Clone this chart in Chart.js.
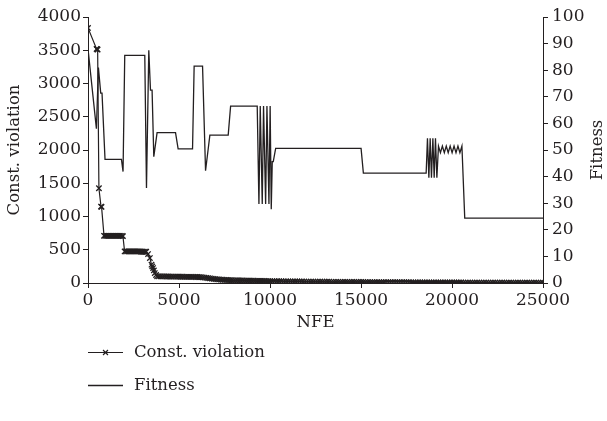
<!DOCTYPE html>
<html><head><meta charset="utf-8">
<script src="https://cdn.jsdelivr.net/npm/chart.js@4.4.0/dist/chart.umd.min.js"></script>
<style>html,body{margin:0;padding:0;background:#fff;overflow:hidden}canvas{display:block}</style>
</head><body>
<canvas id="c" width="607" height="421"></canvas>
<script>
// ---- data ----
const seriesNames = ['Const. violation', 'Fitness'];
const xTitle = 'NFE';
const yTitle = 'Const. violation';
const y1Title = 'Fitness';
const xTicks = [0, 5000, 10000, 15000, 20000, 25000];

const cvNFE = [0, 470, 500, 530, 600, 715, 745, 880, 950, 1020, 1090, 1160, 1230, 1300, 1370, 1440, 1510, 1580, 1650, 1720, 1790, 1860, 1920,
  2010, 2080, 2150, 2220, 2290, 2360, 2430, 2500, 2570, 2640, 2710, 2780, 2850, 2920, 2990, 3060, 3130, 3200,
  3300, 3400, 3490, 3530, 3576, 3620, 3670, 3740,
  3800, 3900, 4000, 4100, 4200, 4300, 4400, 4500, 4600, 4700,
  4800, 4900, 5000, 5100, 5200, 5300, 5400, 5500, 5600, 5700,
  5800, 5900, 6000, 6100, 6200, 6300, 6400, 6500, 6600, 6700,
  6800, 6900, 7000, 7100, 7200, 7300, 7400, 7500, 7600, 7700,
  7800, 7900, 8000, 8100, 8200, 8300, 8400, 8500, 8600, 8700,
  8800, 8900, 9000, 9100, 9200, 9300, 9400, 9500, 9600, 9700,
  9800, 9900, 10000,
  10125, 10250, 10375, 10500, 10625, 10750, 10875, 11000,
  11125, 11250, 11375, 11500, 11625, 11750, 11875, 12000,
  12125, 12250, 12375, 12500, 12625, 12750, 12875, 13000,
  13125, 13250, 13375, 13500, 13625, 13750, 13875, 14000,
  14125, 14250, 14375, 14500, 14625, 14750, 14875, 15000,
  15125, 15250, 15375, 15500, 15625, 15750, 15875, 16000,
  16125, 16250, 16375, 16500, 16625, 16750, 16875, 17000,
  17125, 17250, 17375, 17500, 17625, 17750, 17875, 18000,
  18125, 18250, 18375, 18500, 18625, 18750, 18875, 19000,
  19125, 19250, 19375, 19500, 19625, 19750, 19875, 20000,
  20125, 20250, 20375, 20500, 20625, 20750, 20875, 21000,
  21125, 21250, 21375, 21500, 21625, 21750, 21875, 22000,
  22125, 22250, 22375, 22500, 22625, 22750, 22875, 23000,
  23125, 23250, 23375, 23500, 23625, 23750, 23875, 24000,
  24125, 24250, 24375, 24500, 24625, 24750, 24875, 25000];
const cvValues = [3835, 3520, 3515, 3510, 1425, 1150, 1145, 710, 710, 710, 710, 710, 710, 710, 710, 710, 710, 710, 710, 710, 710, 710, 705,
  475, 475, 475, 475, 475, 475, 475, 475, 475, 475, 475, 475, 475, 470, 470, 470, 470, 470,
  435, 375, 275, 250, 225, 190, 150, 120,
  100, 100, 100, 99, 99, 98, 98, 97, 97, 96,
  96, 95, 95, 94, 94, 93, 93, 92, 92, 91,
  91, 90, 90, 89, 89, 86, 82, 78, 74, 70,
  66, 62, 59, 56, 53, 51, 49, 47, 46, 44,
  43, 42, 41, 40, 40, 39, 38, 38, 37, 36,
  36, 35, 34, 34, 33, 32, 32, 31, 30, 30,
  29, 28, 28,
  27, 27, 26, 26, 26, 25, 25, 25,
  24, 24, 24, 23, 23, 23, 22, 22,
  22, 21, 21, 21, 20, 20, 20, 19,
  19, 19, 18, 18, 18, 18, 17, 17,
  17, 16, 16, 16, 16, 15, 15, 15,
  15, 14, 14, 14, 14, 13, 13, 13,
  13, 13, 12, 12, 12, 12, 12, 11,
  11, 11, 11, 11, 11, 10, 10, 10,
  10, 10, 10, 10, 9, 9, 9, 9,
  9, 9, 9, 9, 8, 8, 8, 8,
  8, 8, 8, 8, 7, 7, 7, 7,
  7, 7, 7, 7, 7, 6, 6, 6,
  6, 6, 6, 6, 6, 6, 6, 5,
  5, 5, 5, 5, 5, 5, 5, 5,
  5, 5, 5, 4, 4, 4, 4, 4];

const fitNFE = [0, 462, 572, 699, 770, 935, 1838, 1926, 2019, 3120, 3213, 3340, 3433, 3521, 3615, 3796, 4809, 4952, 5744, 5832,
  6294, 6459, 6696, 7703, 7835, 9298, 9392, 9464, 9574, 9645, 9760, 9832, 9942, 10008, 10069, 10124, 10179, 10311,
  15004, 15130, 18580, 18652, 18729, 18801, 18872, 18949, 19021, 19092, 19169, 19257, 19364, 19471, 19578, 19685,
  19792, 19899, 20006, 20113, 20220, 20327, 20434, 20545, 20700, 25000];
const fitValues = [88, 58, 81, 71.4, 71.4, 46.5, 46.5, 41.9, 85.6, 85.6, 35.7, 87.5, 72.5, 72.5, 47.5, 56.5, 56.5, 50.4, 50.4, 81.5,
  81.5, 42.2, 55.6, 55.6, 66.5, 66.5, 29.7, 66.5, 29.7, 66.5, 29.7, 66.5, 29.7, 66.5, 27.7, 45.6, 45.6, 50.6,
  50.6, 41.3, 41.3, 54.4, 39.6, 54.4, 39.6, 54.4, 39.6, 54.4, 39.6, 51.5, 49, 51.5, 49, 51.5,
  49, 51.5, 49, 51.5, 49, 51.5, 49, 51.5, 24.4, 24.4];

// ---- drawing ----
const FONT = "'DejaVu Serif', 'Liberation Serif', serif";
const INK = '#231f20';
const TICK_SIZE = 17;
const TITLE_SIZE = 16.5;

const cvData = cvNFE.map((x, i) => ({x, y: cvValues[i]}));
const fitData = fitNFE.map((x, i) => ({x, y: fitValues[i]}));

const extras = {
  id: 'extras',
  afterDraw(chart) {
    const ctx = chart.ctx, ca = chart.chartArea;
    ctx.save();
    ctx.fillStyle = INK;
    ctx.font = TITLE_SIZE + 'px ' + FONT;
    ctx.textAlign = 'center';
    ctx.textBaseline = 'middle';
    ctx.translate(598, (ca.top + ca.bottom) / 2);
    ctx.rotate(-Math.PI / 2);
    ctx.fillText(y1Title, 0, 0);
    ctx.restore();

    // legend
    const items = [
      {label: seriesNames[0], y: 352.5, marker: true, width: 1},
      {label: seriesNames[1], y: 385.5, marker: false, width: 1.3}
    ];
    ctx.save();
    items.forEach(it => {
      ctx.strokeStyle = INK;
      ctx.lineWidth = it.width;
      ctx.beginPath();
      ctx.moveTo(88, it.y);
      ctx.lineTo(123, it.y);
      ctx.stroke();
      if (it.marker) {
        ctx.lineWidth = 1.2;
        Chart.helpers.drawPoint(ctx, {pointStyle: 'crossRot', radius: 3.5, rotation: 0, borderWidth: 1.2}, 105.5, it.y);
      }
      ctx.fillStyle = INK;
      ctx.font = TITLE_SIZE + 'px ' + FONT;
      ctx.textAlign = 'left';
      ctx.textBaseline = 'middle';
      ctx.fillText(it.label, 134, it.y);
    });
    ctx.restore();
  }
};

new Chart(document.getElementById('c'), {
  type: 'line',
  data: {
    datasets: [
      {label: seriesNames[0], data: cvData, yAxisID: 'y', borderColor: INK, backgroundColor: INK, borderWidth: 1.2,
       pointStyle: 'crossRot', pointRadius: 3.8, pointBorderWidth: 1.3, pointBorderColor: INK, tension: 0},
      {label: seriesNames[1], data: fitData, yAxisID: 'y1', borderColor: INK, borderWidth: 1.3,
       pointRadius: 0, tension: 0}
    ]
  },
  options: {
    responsive: false,
    animation: false,
    devicePixelRatio: 1,
    layout: {padding: {top: 17, bottom: 88, left: 0, right: 0}},
    plugins: {legend: {display: false}, tooltip: {enabled: false}},
    scales: {
      x: {
        type: 'linear', min: 0, max: 25000,
        afterBuildTicks: s => { s.ticks = xTicks.map(v => ({value: v})); },
        afterFit: s => { s.height = 50; },
        ticks: {color: INK, font: {family: FONT, size: TICK_SIZE}, padding: 2, maxRotation: 0, callback: v => String(v)},
        grid: {drawOnChartArea: false, drawTicks: true, tickLength: 5, color: INK},
        border: {color: INK, width: 1},
        title: {display: true, text: xTitle, color: INK, font: {family: FONT, size: TITLE_SIZE}, padding: 0}
      },
      y: {
        type: 'linear', position: 'left', min: 0, max: 4000,
        afterFit: s => { s.width = 88; },
        ticks: {stepSize: 500, color: INK, font: {family: FONT, size: TICK_SIZE}, padding: 2, callback: v => String(v)},
        grid: {drawOnChartArea: false, drawTicks: true, tickLength: 5, color: INK},
        border: {color: INK, width: 1},
        title: {display: true, text: yTitle, color: INK, font: {family: FONT, size: TITLE_SIZE}, padding: {top: 5, bottom: 0}}
      },
      y1: {
        type: 'linear', position: 'right', min: 0, max: 100,
        afterFit: s => { s.width = 64; },
        ticks: {stepSize: 10, color: INK, font: {family: FONT, size: TICK_SIZE}, padding: 4, callback: v => String(v)},
        grid: {drawOnChartArea: false, drawTicks: true, tickLength: 5, color: INK},
        border: {color: INK, width: 1}
      }
    }
  },
  plugins: [extras]
});
</script>
</body></html>
